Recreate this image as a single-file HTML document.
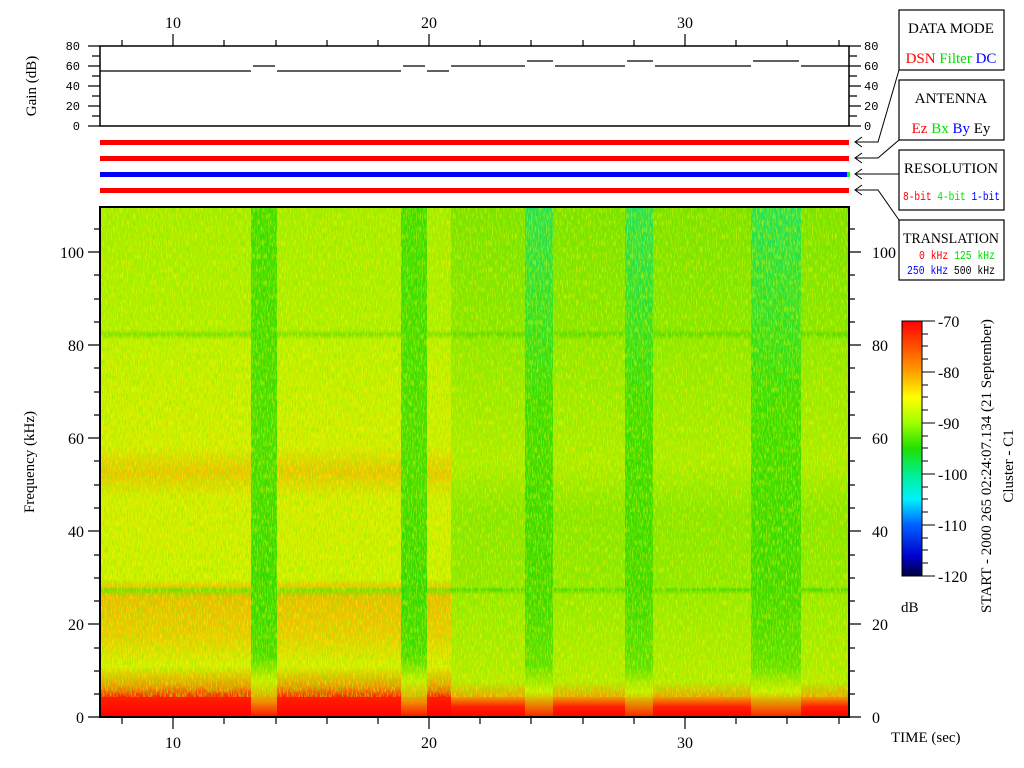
<!DOCTYPE html>
<html><head><meta charset="utf-8"><style>
body{margin:0;background:#fff;}
svg{display:block;font-family:"Liberation Serif",serif;}
.m{font-family:"Liberation Mono",monospace;font-size:12px;}
</style></head><body>
<svg width="1024" height="768" viewBox="0 0 1024 768" xmlns="http://www.w3.org/2000/svg">
<defs>
<linearGradient id="gL" x1="0" y1="207" x2="0" y2="717" gradientUnits="userSpaceOnUse">
<stop offset="0" stop-color="#a8ec00"/><stop offset="0.24" stop-color="#b4ee00"/>
<stop offset="0.25" stop-color="#78e000"/><stop offset="0.26" stop-color="#c0f000"/>
<stop offset="0.47" stop-color="#d8ec00"/><stop offset="0.52" stop-color="#f0c000"/>
<stop offset="0.57" stop-color="#d8ec00"/><stop offset="0.73" stop-color="#d0f000"/>
<stop offset="0.745" stop-color="#f0c000"/><stop offset="0.75" stop-color="#70e000"/>
<stop offset="0.765" stop-color="#f0b800"/><stop offset="0.84" stop-color="#f0c800"/>
<stop offset="0.9" stop-color="#d8f000"/><stop offset="0.94" stop-color="#f09000"/>
<stop offset="0.96" stop-color="#ff2000"/><stop offset="1" stop-color="#ff0000"/>
</linearGradient>
<linearGradient id="gR" x1="0" y1="207" x2="0" y2="717" gradientUnits="userSpaceOnUse">
<stop offset="0" stop-color="#78e200"/><stop offset="0.24" stop-color="#88e600"/>
<stop offset="0.25" stop-color="#58da00"/><stop offset="0.26" stop-color="#90e800"/>
<stop offset="0.5" stop-color="#b0ec00"/><stop offset="0.6" stop-color="#88e600"/>
<stop offset="0.745" stop-color="#90e800"/><stop offset="0.75" stop-color="#48da00"/>
<stop offset="0.76" stop-color="#98ea00"/><stop offset="0.93" stop-color="#b8ec00"/>
<stop offset="0.96" stop-color="#f0a000"/><stop offset="0.98" stop-color="#ff2000"/><stop offset="1" stop-color="#ff0000"/>
</linearGradient>
<linearGradient id="gB" x1="0" y1="207" x2="0" y2="717" gradientUnits="userSpaceOnUse">
<stop offset="0" stop-color="#38dc00"/><stop offset="0.5" stop-color="#40dc00"/>
<stop offset="0.75" stop-color="#30d800"/><stop offset="0.88" stop-color="#40dc00"/>
<stop offset="0.93" stop-color="#c8f000"/><stop offset="0.97" stop-color="#f09000"/><stop offset="1" stop-color="#ff1000"/>
</linearGradient>
<linearGradient id="gC" x1="0" y1="207" x2="0" y2="717" gradientUnits="userSpaceOnUse">
<stop offset="0" stop-color="#20e060"/><stop offset="0.2" stop-color="#30e030"/>
<stop offset="0.4" stop-color="#38dc00"/><stop offset="0.75" stop-color="#38d800"/>
<stop offset="0.9" stop-color="#58e000"/><stop offset="0.95" stop-color="#d0f000"/><stop offset="1" stop-color="#ff2000"/>
</linearGradient>
<linearGradient id="cb" x1="0" y1="321" x2="0" y2="576" gradientUnits="userSpaceOnUse">
<stop offset="0" stop-color="#ff0000"/><stop offset="0.2" stop-color="#ffa000"/>
<stop offset="0.3" stop-color="#ffff00"/><stop offset="0.4" stop-color="#a0ff00"/>
<stop offset="0.5" stop-color="#20e000"/><stop offset="0.6" stop-color="#00f090"/>
<stop offset="0.7" stop-color="#00f0ff"/><stop offset="0.8" stop-color="#0060ff"/>
<stop offset="0.92" stop-color="#0000d0"/><stop offset="1" stop-color="#000040"/>
</linearGradient>
<filter id="nz1" x="0" y="0" width="100%" height="100%">
<feTurbulence type="fractalNoise" baseFrequency="0.8 0.15" numOctaves="2" seed="3"/>
<feColorMatrix values="0 0 0 0 1  0 0 0 0 0.95  0 0 0 0 0  5 0 0 0 -2.4"/>
</filter>
<filter id="nz2" x="0" y="0" width="100%" height="100%">
<feTurbulence type="fractalNoise" baseFrequency="0.8 0.15" numOctaves="2" seed="9"/>
<feColorMatrix values="0 0 0 0 0.2  0 0 0 0 0.85  0 0 0 0 0  5 0 0 0 -2.4"/>
</filter>
</defs>

<rect x="100" y="207" width="351" height="510" fill="url(#gL)"/>
<rect x="451" y="207" width="398" height="510" fill="url(#gR)"/>
<rect x="251" y="207" width="26" height="510" fill="url(#gB)"/>
<rect x="401" y="207" width="26" height="510" fill="url(#gB)"/>
<rect x="525" y="207" width="28" height="510" fill="url(#gC)"/>
<rect x="625" y="207" width="28" height="510" fill="url(#gC)"/>
<rect x="751" y="207" width="50" height="510" fill="url(#gC)"/>
<rect x="100" y="207" width="749" height="490" filter="url(#nz1)" opacity="0.45"/>
<rect x="100" y="207" width="749" height="490" filter="url(#nz2)" opacity="0.45"/>
<rect x="100" y="207" width="749" height="510" fill="none" stroke="#000" stroke-width="2"/>

<rect x="100" y="46" width="749" height="80" fill="none" stroke="#000" stroke-width="1.5"/>
<g stroke="#000" stroke-width="1.2">
<path d="M100 71H251M253 66H275M277 71H401M403 66H425M427 71H449M451 66H525M527 61H553M555 66H625M627 61H653M655 66H751M753 61H799M801 66H849"/>
</g>
<g stroke="#000" stroke-width="1.2">
<path d="M88 46H100M92 56H100M88 66H100M92 76H100M88 86H100M92 96H100M88 106H100M92 116H100M88 126H100"/>
<path d="M849 46H861M849 56H857M849 66H861M849 76H857M849 86H861M849 96H857M849 106H861M849 116H857M849 126H861"/>
<path d="M122 46V40M173 46V34M224 46V40M276 46V40M327 46V40M378 46V40M429 46V34M480 46V40M531 46V40M583 46V40M634 46V40M685 46V34M736 46V40M787 46V40M839 46V40"/>
</g>
<g class="m" font-size="11" text-anchor="end">
<text x="80" y="50">80</text><text x="80" y="70">60</text><text x="80" y="90">40</text><text x="80" y="110">20</text><text x="80" y="130">0</text>
</g>
<g class="m" font-size="11">
<text x="864" y="50">80</text><text x="864" y="70">60</text><text x="864" y="90">40</text><text x="864" y="110">20</text><text x="864" y="130">0</text>
</g>
<text x="36" y="86" font-size="15" transform="rotate(-90 36 86)" text-anchor="middle">Gain (dB)</text>
<g font-size="16" text-anchor="middle"><text x="173" y="28">10</text><text x="429" y="28">20</text><text x="685" y="28">30</text></g>

<rect x="100" y="140" width="749" height="5" fill="#ff0000"/>
<rect x="100" y="156" width="749" height="5" fill="#ff0000"/>
<rect x="100" y="172" width="747" height="5" fill="#0000ff"/>
<rect x="847" y="172" width="3" height="5" fill="#00ff00"/>
<rect x="100" y="188" width="749" height="5" fill="#ff0000"/>

<g stroke="#000" stroke-width="1" fill="none">
<path d="M855 142H878L899 70M862 137L855 142L862 147"/>
<path d="M855 158H878L899 140M862 153L855 158L862 163"/>
<path d="M855 174H899M862 169L855 174L862 179"/>
<path d="M855 190H878L899 220M862 185L855 190L862 195"/>
</g>
<g fill="#fff" stroke="#000" stroke-width="1.2">
<rect x="899" y="10" width="105" height="60"/><rect x="899" y="80" width="105" height="60"/>
<rect x="899" y="150" width="105" height="60"/><rect x="899" y="220" width="105" height="60"/>
</g>
<g font-size="15" text-anchor="middle">
<text x="951" y="33">DATA MODE</text><text x="951" y="103">ANTENNA</text>
<text x="951" y="173">RESOLUTION</text><text x="951" y="243" textLength="96" lengthAdjust="spacingAndGlyphs">TRANSLATION</text>
</g>
<text x="951" y="63" font-size="15" text-anchor="middle"><tspan fill="#ff0000">DSN</tspan> <tspan fill="#00e000">Filter</tspan> <tspan fill="#0000ff">DC</tspan></text>
<text x="951" y="133" font-size="15" text-anchor="middle"><tspan fill="#ff0000">Ez</tspan> <tspan fill="#00e000">Bx</tspan> <tspan fill="#0000ff">By</tspan> Ey</text>
<text x="903" y="200" class="m" font-size="10" textLength="97" lengthAdjust="spacingAndGlyphs"><tspan fill="#ff0000">8-bit</tspan> <tspan fill="#00e000">4-bit</tspan> <tspan fill="#0000ff">1-bit</tspan></text>
<text x="919" y="259" class="m" font-size="9" textLength="76" lengthAdjust="spacingAndGlyphs"><tspan fill="#ff0000">0 kHz</tspan> <tspan fill="#00e000">125 kHz</tspan></text>
<text x="907" y="274" class="m" font-size="9" textLength="88" lengthAdjust="spacingAndGlyphs"><tspan fill="#0000ff">250 kHz</tspan> 500 kHz</text>

<g stroke="#000" stroke-width="1.2">
<path d="M100 717H88M100 694H94M100 671H94M100 648H94M100 624H88M100 601H94M100 578H94M100 555H94M100 531H88M100 508H94M100 485H94M100 461H94M100 438H88M100 415H94M100 392H94M100 368H94M100 345H88M100 322H94M100 299H94M100 275H94M100 252H88M100 229H94"/>
<path d="M849 717H861M849 694H855M849 671H855M849 648H855M849 624H861M849 601H855M849 578H855M849 555H855M849 531H861M849 508H855M849 485H855M849 461H855M849 438H861M849 415H855M849 392H855M849 368H855M849 345H861M849 322H855M849 299H855M849 275H855M849 252H861M849 229H855"/>
<path d="M122 717V724M173 717V729M224 717V724M276 717V724M327 717V724M378 717V724M429 717V729M480 717V724M531 717V724M583 717V724M634 717V724M685 717V729M736 717V724M787 717V724M839 717V724"/>
</g>
<g font-size="16" text-anchor="end">
<text x="84" y="723">0</text><text x="84" y="630">20</text><text x="84" y="537">40</text><text x="84" y="444">60</text><text x="84" y="351">80</text><text x="84" y="258">100</text>
</g>
<g font-size="16">
<text x="872" y="723">0</text><text x="872" y="630">20</text><text x="872" y="537">40</text><text x="872" y="444">60</text><text x="872" y="351">80</text><text x="872" y="258">100</text>
</g>
<g font-size="16" text-anchor="middle"><text x="173" y="748">10</text><text x="429" y="748">20</text><text x="685" y="748">30</text></g>
<text x="891" y="742" font-size="15">TIME (sec)</text>
<text x="34" y="462" font-size="15" transform="rotate(-90 34 462)" text-anchor="middle">Frequency (kHz)</text>

<rect x="902" y="321" width="20" height="255" fill="url(#cb)" stroke="#000" stroke-width="1"/>
<g stroke="#000" stroke-width="1">
<path d="M922 321H935M922 334H928M922 346H928M922 359H928M922 372H928M922 385H928M922 397H928M922 410H928M922 423H928M922 436H928M922 448H928M922 461H928M922 474H928M922 487H928M922 499H928M922 512H928M922 525H928M922 538H928M922 550H928M922 563H928M922 576H935"/>
<path d="M922 372H935M922 423H935M922 474H935M922 525H935"/>
</g>
<g font-size="16">
<text x="938" y="327">-70</text><text x="938" y="378">-80</text><text x="938" y="429">-90</text><text x="938" y="480">-100</text><text x="938" y="531">-110</text><text x="938" y="582">-120</text>
</g>
<text x="901" y="612" font-size="15">dB</text>
<text x="991" y="466" font-size="15" transform="rotate(-90 991 466)" text-anchor="middle">START - 2000 265 02:24:07.134 (21 September)</text>
<text x="1013" y="466" font-size="15" transform="rotate(-90 1013 466)" text-anchor="middle">Cluster - C1</text>
</svg>
</body></html>
